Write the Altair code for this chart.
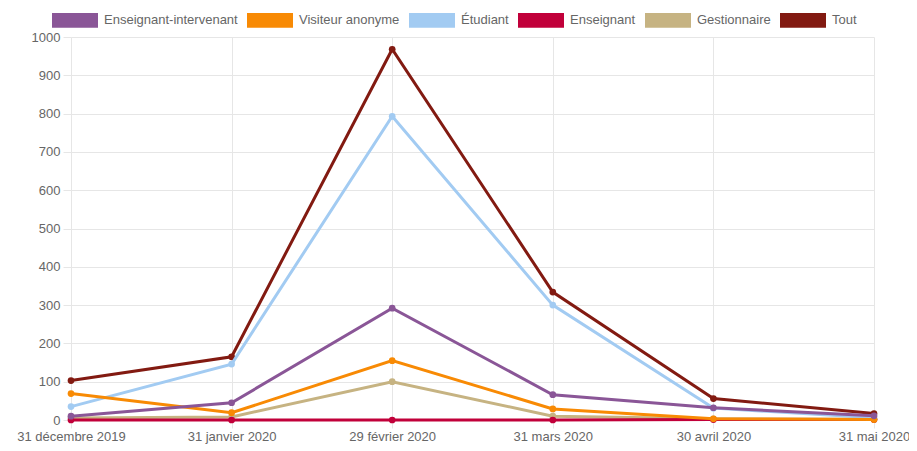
import altair as alt
import pandas as pd

dates = ["31 décembre 2019", "31 janvier 2020", "29 février 2020",
         "31 mars 2020", "30 avril 2020", "31 mai 2020"]
series_names = ["Enseignant-intervenant", "Visiteur anonyme", "Étudiant",
                "Enseignant", "Gestionnaire", "Tout"]
colors = ["#8A5697", "#F88A04", "#A2CBF2", "#C1003A", "#C6B382", "#821A11"]

enseignant_intervenant = [10, 45, 292, 66, 32, 11]
visiteur_anonyme = [69, 19, 155, 29, 3, 1]
etudiant = [35, 146, 793, 300, 31, 6]
enseignant = [0, 0, 0, 0, 1, 1]
gestionnaire = [5, 8, 100, 10, 3, 2]
tout = [103, 165, 968, 334, 56, 17]

values = [enseignant_intervenant, visiteur_anonyme, etudiant,
          enseignant, gestionnaire, tout]

rows = []
for name, vals in zip(series_names, values):
    for d, v in zip(dates, vals):
        rows.append({"date": d, "series": name, "value": v})
df = pd.DataFrame(rows)

font = "Liberation Sans"
grid = "#e6e6e6"

color = alt.Color(
    "series:N",
    scale=alt.Scale(domain=series_names, range=colors),
    legend=alt.Legend(
        title=None,
        orient="none",
        direction="horizontal",
        legendX=-19,
        legendY=-40,
        symbolType="M-1,-0.32 L1,-0.32 L1,0.32 L-1,0.32 Z",
        symbolSize=2116,
        symbolStrokeWidth=0,
        symbolOpacity=1,
        labelFont=font,
        labelFontSize=13,
        labelColor="#666666",
        labelOffset=6,
        columnPadding=9,
        columns=6,
    ),
)

x = alt.X(
    "date:N",
    sort=dates,
    scale=alt.Scale(type="point", padding=0),
    axis=alt.Axis(
        title=None, labelAngle=0, labelFont=font, labelFontSize=13,
        labelColor="#666666", tickSize=8, tickColor=grid, labelPadding=2,
        domainColor=grid, gridColor=grid, grid=True,
    ),
)
y = alt.Y(
    "value:Q",
    scale=alt.Scale(domain=[0, 1000], nice=False),
    axis=alt.Axis(
        title=None, values=list(range(0, 1001, 100)), format="d",
        labelFont=font, labelFontSize=13, labelColor="#666666", tickSize=8,
        tickColor=grid, labelPadding=3, domainColor=grid, gridColor=grid,
        grid=True,
    ),
)

layers = []
for name in reversed(series_names):
    sub = df[df["series"] == name]
    layers.append(
        alt.Chart(sub).mark_line(
            strokeWidth=3, point=alt.OverlayMarkDef(size=45, filled=True, opacity=1)
        ).encode(x=x, y=y, color=color)
    )

chart = alt.layer(*layers).properties(
    width=803,
    height=383,
    autosize=alt.AutoSizeParams(type="none"),
    padding={"left": 63, "top": 29, "right": 35, "bottom": 24},
).configure_view(stroke=None)

chart.save("out.html", embed_options={"renderer": "svg", "actions": False})
